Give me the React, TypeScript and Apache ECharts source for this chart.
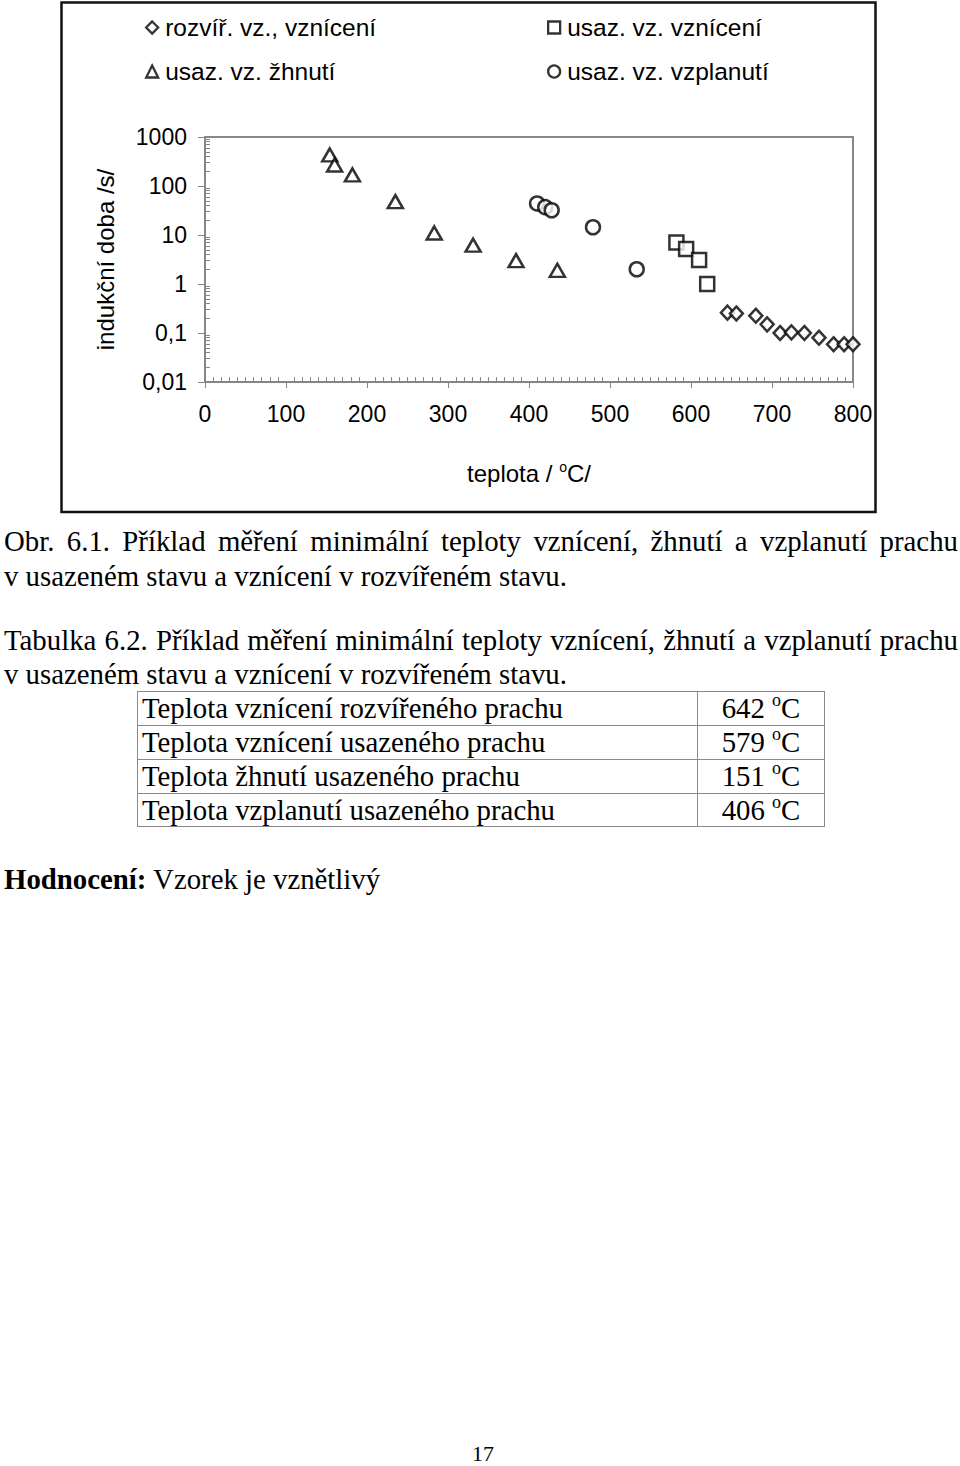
import React, { useEffect, useRef } from "react";
import * as echarts from "echarts";

const SANS = "'Liberation Sans', Arial, sans-serif";
const SERIF = "'Liberation Serif', 'Times New Roman', serif";

// ---- chart data (temperature °C, induction time s) ----
const seriesNames = [
  "rozvíř. vz., vznícení",
  "usaz. vz. vznícení",
  "usaz. vz. žhnutí",
  "usaz. vz. vzplanutí",
];
const dispersedIgnitionT = [645, 656, 680, 694, 710, 724, 740, 758, 776, 789, 800];
const dispersedIgnitionTime = [0.26, 0.25, 0.225, 0.15, 0.1, 0.103, 0.1, 0.08, 0.059, 0.059, 0.059];
const layerIgnitionT = [582, 594, 610, 620];
const layerIgnitionTime = [7.0, 5.2, 3.1, 1.0];
const layerGlowT = [154, 160, 182, 235, 283, 331, 384, 435];
const layerGlowTime = [430, 268, 168, 48, 11, 6.2, 3.0, 1.9];
const layerFlashT = [410, 420, 428, 479, 533];
const layerFlashTime = [44, 37, 32, 14.4, 2.0];

const xMin = 0;
const xMax = 800;
const xStep = 100;
const yMin = 0.01;
const yMax = 1000;

// ---- document text ----
const figCaption = [
  "Obr. 6.1. Příklad měření minimální teploty vznícení, žhnutí a vzplanutí prachu",
  "v usazeném stavu a vznícení v rozvířeném stavu.",
];
const tableCaption = [
  "Tabulka 6.2. Příklad měření minimální teploty vznícení, žhnutí a vzplanutí prachu",
  "v usazeném stavu a vznícení v rozvířeném stavu.",
];
const tableLabels = [
  "Teplota vznícení rozvířeného prachu",
  "Teplota vznícení usazeného prachu",
  "Teplota žhnutí usazeného prachu",
  "Teplota vzplanutí usazeného prachu",
];
const tableValues = [642, 579, 151, 406];
const verdictLabel = "Hodnocení:";
const verdictText = " Vzorek je vznětlivý";
const pageNumber = "17";

function pairs(xs: number[], ys: number[]) {
  return xs.map((x, i) => [x, ys[i]]);
}

const TEXT_SIZE = 28.8;
const LINE_H = 34;

function JustifiedLine({ text, top }: { text: string; top: number }) {
  return (
    <div
      style={{
        position: "absolute",
        left: 4,
        top,
        width: 954,
        height: LINE_H,
        lineHeight: LINE_H + "px",
        display: "flex",
        justifyContent: "space-between",
        whiteSpace: "nowrap",
      }}
    >
      {text.split(" ").map((w, i) => (
        <span key={i}>{w}</span>
      ))}
    </div>
  );
}

function PlainLine({ children, top, left = 4 }: { children: React.ReactNode; top: number; left?: number }) {
  return (
    <div
      style={{
        position: "absolute",
        left,
        top,
        height: LINE_H,
        lineHeight: LINE_H + "px",
        whiteSpace: "nowrap",
      }}
    >
      {children}
    </div>
  );
}

export default function App() {
  const ref = useRef<HTMLDivElement>(null);

  useEffect(() => {
    const chart = echarts.init(ref.current!, null, { renderer: "svg" });
    const marker = { color: "#ffffff", borderColor: "#000000", borderWidth: 2.5 };
    const axisGrey = "#878787";
    const legendBase = {
      orient: "vertical" as const,
      top: 15,
      itemGap: 19,
      itemWidth: 12,
      itemHeight: 12,
      padding: 0,
      selectedMode: false,
      itemStyle: { color: "#ffffff", borderColor: "#000000", borderWidth: 2.3 },
      textStyle: { fontSize: 24.5, fontFamily: SANS, color: "#000", padding: [0, 0, 0, 2] },
    };
    chart.setOption({
      animation: false,
      graphic: [
        {
          type: "rect",
          silent: true,
          z: 100,
          shape: { x: 61.5, y: 2.5, width: 814, height: 509.5 },
          style: { fill: "none", stroke: "#111", lineWidth: 2.5 },
        },
      ],
      legend: [
        { ...legendBase, left: 145, data: [seriesNames[0], seriesNames[2]] },
        { ...legendBase, left: 547, data: [seriesNames[1], seriesNames[3]] },
      ],
      grid: {
        left: 205,
        top: 137,
        width: 648,
        height: 245,
        show: true,
        borderColor: axisGrey,
        borderWidth: 2,
        containLabel: false,
        outerBoundsMode: "none",
      },
      xAxis: [
        {
          type: "value",
          position: "bottom",
          min: xMin,
          max: xMax,
          interval: xStep,
          axisLine: { lineStyle: { color: axisGrey, width: 2 } },
          axisTick: { show: true, inside: false, length: 6, lineStyle: { color: axisGrey, width: 1 } },
          axisLabel: { fontSize: 23, fontFamily: SANS, color: "#000", margin: 20 },
          splitLine: { show: false },
          name: "{a|teplota / }{s|o}{a|C/}",
          nameLocation: "middle",
          nameGap: 78,
          nameTextStyle: {
            rich: {
              a: { fontSize: 24, fontFamily: SANS, color: "#000" },
              s: { fontSize: 14, fontFamily: SANS, color: "#000", padding: [0, 0, 12, 0] },
            },
          },
        },
        {
          type: "value",
          position: "bottom",
          min: xMin,
          max: xMax,
          interval: xStep,
          axisLine: { show: false },
          axisTick: { show: false, inside: true },
          minorTick: { show: true, splitNumber: 10, length: 5, lineStyle: { color: axisGrey, width: 1 } },
          axisLabel: { show: false },
          splitLine: { show: false },
        },
      ],
      yAxis: [
        {
          type: "log",
          logBase: 10,
          position: "left",
          min: yMin,
          max: yMax,
          axisLine: { show: true, lineStyle: { color: axisGrey, width: 2 } },
          axisTick: { show: true, inside: false, length: 7, lineStyle: { color: axisGrey, width: 1 } },
          axisLabel: {
            fontSize: 23,
            fontFamily: SANS,
            color: "#000",
            margin: 18,
            formatter: (v: number) => String(Number(v.toPrecision(6))).replace(".", ","),
          },
          splitLine: { show: false },
          name: "indukční doba /s/",
          nameLocation: "middle",
          nameGap: 88,
          nameTextStyle: { fontSize: 24, fontFamily: SANS, color: "#000" },
        },
        {
          type: "log",
          logBase: 10,
          position: "left",
          min: yMin,
          max: yMax,
          axisLine: { show: false },
          axisTick: { show: false, inside: true },
          minorTick: { show: true, splitNumber: 9, length: 5, lineStyle: { color: axisGrey, width: 1 } },
          axisLabel: { show: false },
          splitLine: { show: false },
        },
      ],
      series: [
        {
          name: seriesNames[0],
          type: "scatter",
          symbol: "diamond",
          symbolSize: [13, 14],
          itemStyle: marker,
          clip: false,
          data: pairs(dispersedIgnitionT, dispersedIgnitionTime),
        },
        {
          name: seriesNames[1],
          type: "scatter",
          symbol: "rect",
          symbolSize: 14,
          itemStyle: marker,
          clip: false,
          data: pairs(layerIgnitionT, layerIgnitionTime),
        },
        {
          name: seriesNames[2],
          type: "scatter",
          symbol: "triangle",
          symbolSize: [15, 13],
          itemStyle: marker,
          clip: false,
          data: pairs(layerGlowT, layerGlowTime),
        },
        {
          name: seriesNames[3],
          type: "scatter",
          symbol: "circle",
          symbolSize: 14,
          itemStyle: marker,
          clip: false,
          data: pairs(layerFlashT, layerFlashTime),
        },
      ],
    });
    return () => chart.dispose();
  }, []);

  const sup = <sup style={{ fontSize: 18, lineHeight: 0, verticalAlign: 12 }}>o</sup>;

  return (
    <div
      style={{
        position: "absolute",
        left: 0,
        top: 0,
        width: 960,
        height: 1466,
        background: "#fff",
        fontFamily: SERIF,
        fontSize: TEXT_SIZE,
        color: "#000",
        overflow: "hidden",
      }}
    >
      <div ref={ref} style={{ position: "absolute", left: 0, top: 0, width: 960, height: 520 }} />

      <JustifiedLine text={figCaption[0]} top={524} />
      <PlainLine top={559}>{figCaption[1]}</PlainLine>
      <JustifiedLine text={tableCaption[0]} top={623} />
      <PlainLine top={657}>{tableCaption[1]}</PlainLine>

      {/* table */}
      <div
        style={{
          position: "absolute",
          left: 137,
          top: 691,
          width: 688,
          height: 136,
          border: "1px solid #8a8a8a",
          boxSizing: "border-box",
        }}
      />
      <div style={{ position: "absolute", left: 697, top: 691, width: 1, height: 136, background: "#8a8a8a" }} />
      {tableLabels.map((label, i) => (
        <React.Fragment key={label}>
          {i > 0 && (
            <div
              style={{ position: "absolute", left: 137, top: 691 + i * 34, width: 688, height: 1, background: "#8a8a8a" }}
            />
          )}
          <div
            style={{
              position: "absolute",
              left: 142,
              top: 691 + i * 34,
              height: 34,
              lineHeight: "34px",
              whiteSpace: "nowrap",
            }}
          >
            {label}
          </div>
          <div
            style={{
              position: "absolute",
              left: 697,
              width: 128,
              top: 691 + i * 34,
              height: 34,
              lineHeight: "34px",
              textAlign: "center",
              whiteSpace: "nowrap",
            }}
          >
            {tableValues[i]} {sup}C
          </div>
        </React.Fragment>
      ))}

      <PlainLine top={862}>
        <b>{verdictLabel}</b>
        {verdictText}
      </PlainLine>

      <div
        style={{
          position: "absolute",
          left: 463,
          width: 40,
          top: 1444,
          height: 20,
          lineHeight: "20px",
          fontSize: 22,
          textAlign: "center",
        }}
      >
        {pageNumber}
      </div>
    </div>
  );
}
